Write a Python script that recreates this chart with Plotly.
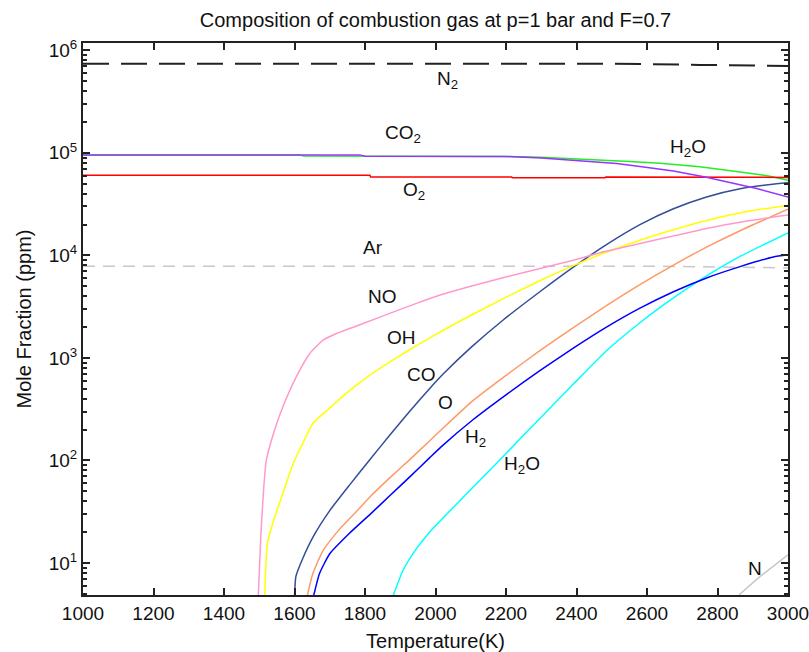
import plotly.graph_objects as go

# ---------------- data (mole fraction in ppm vs temperature in K) ----------------
T_N2 = [1000, 2500, 2750, 3000]
N2 = [741000, 741000, 720000, 703000]

T_Ar = [1000, 2600, 2800, 3000]
Ar = [7850, 7850, 7700, 7550]

T_CO2 = [1000, 1785, 1800, 2000, 2200, 2300, 2400, 2514, 2580, 2675, 2765, 2850, 2911, 3000]
CO2 = [95500, 95500, 92500, 92300, 92000, 89000, 84500, 78700, 73500, 66500, 58200, 50500, 44900, 37000]

T_H2O = [1000, 1615, 1625, 1785, 1800, 2000, 2200, 2300, 2467, 2550, 2637, 2750, 2864, 2949, 3000]
H2O = [95500, 95500, 93000, 93000, 92500, 92300, 92000, 90500, 86000, 82500, 79000, 73000, 65000, 59200, 54100]

T_O2 = [1000, 1814, 1816, 2216, 2218, 2481, 2483, 3000]
O2 = [60600, 60600, 58200, 58200, 57100, 57100, 58200, 57600]

T_NO = [1497, 1500, 1505, 1512, 1520, 1544, 1567, 1605, 1643, 1681, 1719, 1800, 1870, 1946,
        2013, 2100, 2202, 2300, 2391, 2480, 2580, 2680, 2769, 2880, 3000]
NO = [4.6, 8, 20, 50, 100, 200, 334, 654, 1100, 1490, 1730, 2200, 2716, 3400,
      4100, 5000, 6180, 7500, 8980, 10900, 13070, 15600, 18300, 21500, 24700]

T_OH = [1515, 1518, 1523, 1544, 1567, 1596, 1624, 1652, 1709, 1756, 1813, 1889, 1946, 2017,
        2070, 2202, 2300, 2391, 2480, 2580, 2680, 2769, 2880, 3000]
OH = [4.6, 8, 15.5, 28.2, 47.9, 93, 148, 229, 347, 479, 676, 1000, 1318, 1820,
      2291, 3936, 5754, 7943, 10593, 14060, 17989, 21878, 26607, 30903]

T_CO = [1600, 1604, 1624, 1652, 1700, 1756, 1813, 1870, 1927, 1983, 2021, 2100, 2192, 2296,
        2391, 2485, 2580, 2675, 2769, 2864, 2950, 3000]
CO = [4.6, 7.4, 11.2, 17.8, 32.4, 57.5, 101, 176, 302, 501, 692, 1259, 2344, 4416,
      7674, 12735, 19953, 28510, 37154, 44668, 48978, 50933]

T_O = [1635, 1652, 1681, 1728, 1775, 1813, 1870, 1927, 1983, 2015, 2107, 2202, 2296,
       2391, 2485, 2580, 2675, 2769, 2864, 3000]
O = [4.6, 7.9, 13.2, 21.4, 31.6, 43.7, 67.6, 102, 155, 197, 385, 684, 1175,
     1972, 3236, 5188, 8035, 12023, 17378, 28184]

T_H2 = [1653, 1671, 1700, 1756, 1813, 1870, 1927, 1983, 2015, 2107, 2202, 2296, 2391,
        2485, 2580, 2675, 2769, 2864, 2958, 3000]
H2 = [4.6, 7.9, 12.3, 19.5, 29.5, 45.2, 69.2, 106, 135, 251, 442, 750, 1245,
      1995, 3055, 4416, 6026, 7762, 9661, 10116]

T_H2Ominor = [1878, 1908, 1946, 1983, 2013, 2107, 2202, 2296, 2391, 2485, 2590, 2675,
              2769, 2864, 3000]
H2Ominor = [4.6, 8.5, 13.8, 20, 25.7, 55, 119, 257, 556, 1175, 2344, 3846,
            6310, 9772, 16596]

T_N = [2858, 2864, 2921, 3000]
N = [4.6, 5, 7.4, 12]

x_ticks = [1000, 1200, 1400, 1600, 1800, 2000, 2200, 2400, 2600, 2800, 3000]
y_ticks = [10, 100, 1000, 10000, 100000, 1000000]
y_ticktext = ["10<sup>1</sup>", "10<sup>2</sup>", "10<sup>3</sup>",
              "10<sup>4</sup>", "10<sup>5</sup>", "10<sup>6</sup>"]

# label texts and positions (T, log10 ppm)
labels = ["N<sub>2</sub>", "CO<sub>2</sub>", "O<sub>2</sub>", "Ar", "NO", "OH", "CO", "O",
          "H<sub>2</sub>", "H<sub>2</sub>O", "H<sub>2</sub>O", "N"]
label_T = [1999, 1851, 1902, 1789, 1803, 1857, 1913, 2001, 2078, 2189, 2660, 2881]
label_logy = [5.708, 5.181, 4.631, 4.075, 3.597, 3.198, 2.835, 2.564, 2.223, 1.955, 5.050, 0.946]

FONT = "Liberation Sans, Arial, sans-serif"

fig = go.Figure()


def add(T, v, color, width=1.5, dash=None, smooth=False):
    line = dict(color=color, width=width, dash=dash)
    if smooth:
        line.update(shape="spline", smoothing=0.5)
    fig.add_trace(go.Scatter(x=T, y=v, mode="lines", line=line,
                             showlegend=False, hoverinfo="skip"))


add(T_Ar, Ar, "#c8c8c8", 1.5, "12px,8px")
add(T_N2, N2, "#222222", 2, "26px,12px")
add(T_N, N, "#c8c8c8")
add(T_H2Ominor, H2Ominor, "#00ffff", smooth=True)
add(T_H2, H2, "#0000ff", smooth=True)
add(T_O, O, "#ff9966", smooth=True)
add(T_CO, CO, "#334d99", smooth=True)
add(T_OH, OH, "#ffff00", smooth=True)
add(T_NO, NO, "#ff99cc", smooth=True)
add(T_H2O, H2O, "#22ee22")
add(T_O2, O2, "#ff0000")
add(T_CO2, CO2, "#9933ff")

for txt, tx, ly in zip(labels, label_T, label_logy):
    fig.add_annotation(x=tx, y=ly, xref="x", yref="y", text=txt, showarrow=False,
                       xanchor="left", yanchor="middle",
                       font=dict(family=FONT, size=19, color="#111111"))

minor_vals = [m * 10 ** k for k in range(0, 6) for m in range(2, 10)]

fig.update_layout(
    width=809, height=652, autosize=False,
    margin=dict(l=83, r=21, t=43, b=57, autoexpand=False),
    paper_bgcolor="white", plot_bgcolor="white",
    font=dict(family=FONT, size=19, color="#111111"),
    title=dict(text="Composition of combustion gas at p=1 bar and F=0.7",
               x=0.5, xref="paper", y=1 - 20 / 652, yref="container",
               xanchor="center", yanchor="middle",
               font=dict(family=FONT, size=20, color="#111111")),
    xaxis=dict(range=[1000, 3000], tickmode="array", tickvals=x_ticks,
               ticks="inside", ticklen=7, tickwidth=1.5, tickcolor="#222222",
               showline=True, linecolor="#222222", linewidth=2, mirror="ticks",
               showgrid=False, zeroline=False, ticklabeloverflow="allow",
               automargin=False,
               tickfont=dict(family=FONT, size=19, color="#111111"),
               title=dict(text="Temperature(K)", standoff=11,
                          font=dict(family=FONT, size=20, color="#111111"))),
    yaxis=dict(type="log", range=[0.688, 6.071], tickmode="array",
               tickvals=y_ticks, ticktext=y_ticktext,
               ticks="inside", ticklen=7, tickwidth=1.5, tickcolor="#222222",
               showline=True, linecolor="#222222", linewidth=2, mirror="ticks",
               showgrid=False, zeroline=False, ticklabeloverflow="allow",
               automargin=False,
               minor=dict(tickmode="array", tickvals=minor_vals, ticks="inside",
                          ticklen=4, tickwidth=1.5, tickcolor="#222222", showgrid=False),
               tickfont=dict(family=FONT, size=19, color="#111111"),
               title=dict(text="Mole Fraction (ppm)", standoff=12,
                          font=dict(family=FONT, size=20, color="#111111"))),
)

fig.write_html("out.html")
